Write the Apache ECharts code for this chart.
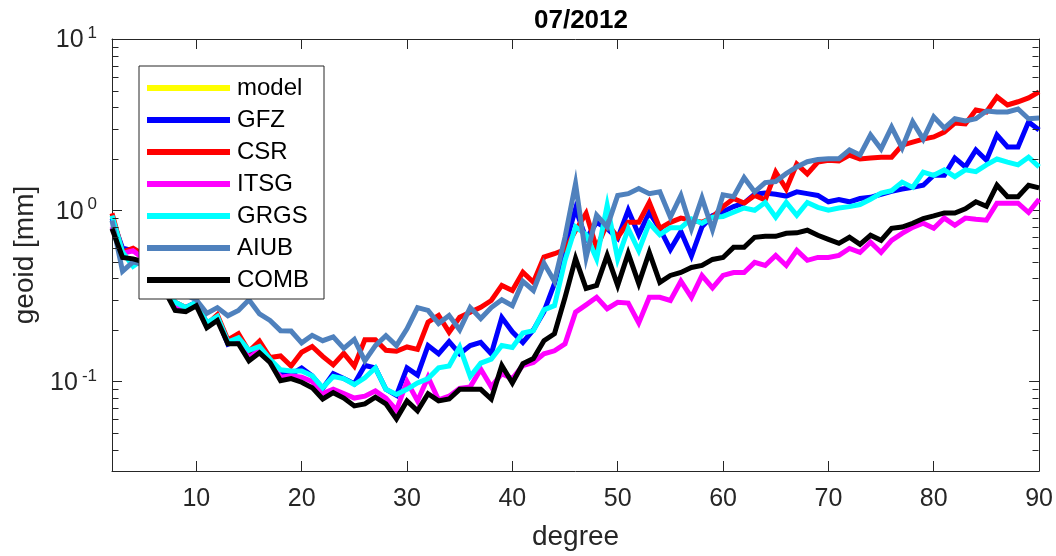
<!DOCTYPE html>
<html>
<head>
<meta charset="utf-8">
<script src="https://cdn.jsdelivr.net/npm/echarts@6/dist/echarts.min.js"></script>
<style>html,body{margin:0;padding:0;background:#fff}#c{width:1056px;height:556px}</style>
</head>
<body>
<div id="c"></div>
<script>
const titleText = '07/2012';
const xName = 'degree';
const yName = 'geoid [mm]';
const seriesNames = ['model', 'GFZ', 'CSR', 'ITSG', 'GRGS', 'AIUB', 'COMB'];
const seriesColors = ['#ffff00', '#0000ff', '#ff0000', '#ff00ff', '#00ffff', '#4f81bd', '#000000'];

const degrees = [
  2, 3, 4, 5, 6, 7, 8, 9, 10, 11,
  12, 13, 14, 15, 16, 17, 18, 19, 20, 21,
  22, 23, 24, 25, 26, 27, 28, 29, 30, 31,
  32, 33, 34, 35, 36, 37, 38, 39, 40, 41,
  42, 43, 44, 45, 46, 47, 48, 49, 50, 51,
  52, 53, 54, 55, 56, 57, 58, 59, 60, 61,
  62, 63, 64, 65, 66, 67, 68, 69, 70, 71,
  72, 73, 74, 75, 76, 77, 78, 79, 80, 81,
  82, 83, 84, 85, 86, 87, 88, 89, 90
];

const model = [];

const gfz = [
  0.90, 0.60, 0.58, 0.55, 0.45, 0.36, 0.28, 0.27, 0.29, 0.22,
  0.235, 0.165, 0.175, 0.14, 0.155, 0.13, 0.112, 0.11, 0.12, 0.108,
  0.091, 0.111, 0.104, 0.097, 0.124, 0.12, 0.09, 0.083, 0.12, 0.109,
  0.162, 0.145, 0.171, 0.145, 0.162, 0.169, 0.145, 0.236, 0.195, 0.169,
  0.20, 0.256, 0.373, 0.62, 1.02, 0.68, 0.85, 0.78, 0.685, 1.0,
  0.72, 0.97, 0.78, 0.59, 0.75, 0.54, 0.80, 0.93, 0.98, 1.05,
  1.10, 1.24, 1.26, 1.24, 1.21, 1.28, 1.25, 1.22, 1.12, 1.155,
  1.12, 1.17, 1.19, 1.24, 1.29, 1.33, 1.36, 1.40, 1.60, 1.60,
  2.02, 1.79, 2.25, 1.96, 2.75, 2.34, 2.34, 3.28, 2.94
];

const csr = [
  0.96, 0.57, 0.60, 0.55, 0.45, 0.36, 0.29, 0.27, 0.28, 0.215,
  0.245, 0.175, 0.19, 0.15, 0.172, 0.138, 0.141, 0.123, 0.148, 0.16,
  0.14, 0.125, 0.146, 0.123, 0.175, 0.175, 0.152, 0.15, 0.159, 0.154,
  0.222, 0.243, 0.194, 0.237, 0.254, 0.271, 0.297, 0.364, 0.34, 0.435,
  0.38, 0.533, 0.557, 0.59, 0.76, 0.96, 0.60, 0.84, 0.695, 0.85,
  0.85, 1.11, 0.784, 0.85, 0.90, 0.874, 0.85, 0.91, 1.05, 1.17,
  1.10, 1.22, 1.15, 1.67, 1.33, 1.86, 1.63, 1.91, 1.96, 1.94,
  2.10, 1.99, 2.02, 2.04, 2.04, 2.40, 2.50, 2.60, 2.68, 2.86,
  3.23, 3.19, 3.85, 3.75, 4.59, 4.12, 4.30, 4.53, 4.91
];

const itsg = [
  0.80, 0.56, 0.58, 0.52, 0.44, 0.35, 0.274, 0.265, 0.28, 0.215,
  0.235, 0.17, 0.172, 0.137, 0.153, 0.133, 0.106, 0.108, 0.106, 0.10,
  0.085, 0.09, 0.085, 0.08, 0.082, 0.088, 0.08, 0.068, 0.10, 0.077,
  0.106, 0.078, 0.082, 0.091, 0.093, 0.118, 0.093, 0.111, 0.104, 0.124,
  0.129, 0.145, 0.151, 0.166, 0.254, 0.28, 0.31, 0.266, 0.29, 0.287,
  0.22, 0.31, 0.31, 0.297, 0.385, 0.31, 0.415, 0.352, 0.416, 0.433,
  0.433, 0.496, 0.476, 0.545, 0.476, 0.583, 0.51, 0.53, 0.53, 0.545,
  0.598, 0.567, 0.65, 0.567, 0.667, 0.733, 0.795, 0.839, 0.784, 0.90,
  0.817, 0.90, 0.885, 0.874, 1.10, 1.10, 1.10, 0.97, 1.16
];

const grgs = [
  0.93, 0.57, 0.47, 0.52, 0.44, 0.36, 0.29, 0.27, 0.29, 0.22,
  0.24, 0.17, 0.18, 0.152, 0.16, 0.135, 0.117, 0.115, 0.115, 0.108,
  0.092, 0.107, 0.104, 0.096, 0.105, 0.12, 0.09, 0.084, 0.09, 0.098,
  0.104, 0.12, 0.123, 0.159, 0.107, 0.128, 0.135, 0.162, 0.158, 0.192,
  0.198, 0.262, 0.277, 0.51, 0.80, 0.72, 0.52, 1.07, 0.52, 0.78,
  0.58, 0.84, 0.72, 0.79, 0.79, 0.89, 0.84, 0.91, 0.92, 0.973,
  1.03, 1.0, 1.11, 0.91, 1.11, 0.935, 1.11, 1.04, 1.0, 1.03,
  1.05, 1.08, 1.16, 1.26, 1.30, 1.46, 1.36, 1.67, 1.60, 1.72,
  1.57, 1.72, 1.68, 1.84, 1.99, 1.91, 1.84, 2.04, 1.79
];

const aiub = [
  0.87, 0.44, 0.50, 0.48, 0.45, 0.40, 0.35, 0.32, 0.30, 0.25,
  0.27, 0.242, 0.26, 0.30, 0.248, 0.227, 0.198, 0.197, 0.168, 0.186,
  0.173, 0.182, 0.156, 0.176, 0.132, 0.162, 0.185, 0.162, 0.203, 0.27,
  0.26, 0.218, 0.243, 0.20, 0.27, 0.233, 0.27, 0.30, 0.277, 0.384,
  0.34, 0.49, 0.384, 0.695, 1.43, 0.53, 0.935, 0.80, 1.22, 1.25,
  1.34, 1.25, 1.28, 0.91, 1.22, 0.78, 1.18, 0.77, 1.23, 1.20,
  1.55, 1.28, 1.45, 1.47, 1.64, 1.79, 1.92, 1.98, 2.0, 2.0,
  2.25, 2.10, 2.75, 2.28, 3.06, 2.31, 3.28, 2.60, 3.51, 3.02,
  3.42, 3.32, 3.42, 3.80, 3.75, 3.75, 3.90, 3.42, 3.46
];

const comb = [
  0.78, 0.53, 0.52, 0.50, 0.42, 0.34, 0.26, 0.256, 0.277, 0.206,
  0.227, 0.166, 0.166, 0.132, 0.147, 0.129, 0.101, 0.104, 0.099, 0.092,
  0.079, 0.086, 0.080, 0.072, 0.074, 0.081, 0.074, 0.0605, 0.077, 0.0674,
  0.0848, 0.077, 0.079, 0.090, 0.090, 0.090, 0.079, 0.124, 0.098, 0.127,
  0.136, 0.173, 0.190, 0.309, 0.523, 0.349, 0.364, 0.545, 0.364, 0.56,
  0.373, 0.567, 0.379, 0.416, 0.433, 0.463, 0.476, 0.516, 0.53, 0.607,
  0.607, 0.695, 0.704, 0.704, 0.733, 0.738, 0.764, 0.714, 0.676, 0.641,
  0.695, 0.632, 0.714, 0.667, 0.784, 0.798, 0.839, 0.894, 0.926, 0.964,
  0.964, 1.02, 1.12, 1.055, 1.40, 1.20, 1.20, 1.40, 1.35
];

const xMin = 2, xMax = 90;
const yMin = 0.03, yMax = 10;
const yMinorTicks = [0.04, 0.05, 0.06, 0.07, 0.08, 0.09,
                     0.2, 0.3, 0.4, 0.5, 0.6, 0.7, 0.8, 0.9,
                     2, 3, 4, 5, 6, 7, 8, 9];

const seriesValues = [model, gfz, csr, itsg, grgs, aiub, comb];

const FONT = '"Liberation Sans", Arial, Helvetica, sans-serif';
const AX = '#262626';

function pairs(arr) { return arr.map((v, i) => [degrees[i], v]); }

const chart = echarts.init(document.getElementById('c'), null, { renderer: 'canvas' });

const supLabel = {
  show: true,
  fontFamily: FONT, fontSize: 25, color: AX, margin: 15,
  formatter: function (v) {
    const e = Math.log10(v);
    const r = Math.round(e);
    if (Math.abs(e - r) > 1e-6) return '';
    return '{b|10}{s|' + r + '}';
  },
  rich: {
    b: { fontFamily: FONT, fontSize: 25, color: AX, verticalAlign: 'bottom', lineHeight: 28 },
    s: { fontFamily: FONT, fontSize: 17, color: AX, verticalAlign: 'top', lineHeight: 28, padding: [0, 0, 0, 4] }
  }
};

const xLabel = {
  show: true, fontFamily: FONT, fontSize: 25, color: AX, margin: 16,
  formatter: function (v) { return (v % 10 === 0) ? String(v) : ''; }
};

const option = {
  animation: false,
  backgroundColor: '#ffffff',
  title: {
    text: titleText, left: 576, top: 3, textAlign: 'center',
    textStyle: { fontFamily: FONT, fontSize: 26, fontWeight: 'bold', color: '#000' }
  },
  grid: { left: 112, right: 15, top: 39, bottom: 85, containLabel: false },
  legend: {
    orient: 'vertical', left: 139, top: 66, z: 30,
    padding: [10, 15, 7, 8], itemGap: 8, itemWidth: 83, itemHeight: 6,
    backgroundColor: '#ffffff', borderColor: AX, borderWidth: 1,
    icon: 'rect', selectedMode: false,
    textStyle: { fontFamily: FONT, fontSize: 24, color: '#000', padding: [0, 0, 0, 2] },
    data: seriesNames
  },
  xAxis: [
    {
      type: 'value', position: 'bottom', min: xMin, max: xMax, splitNumber: 9,
      name: xName, nameLocation: 'middle', nameGap: 52,
      nameTextStyle: { fontFamily: FONT, fontSize: 28, color: AX },
      axisLine: { show: true, lineStyle: { color: AX, width: 1 } },
      axisTick: { show: true, inside: true, length: 10, lineStyle: { color: AX } },
      axisLabel: xLabel,
      splitLine: { show: false }
    },
    {
      type: 'value', position: 'top', min: xMin, max: xMax, splitNumber: 9,
      axisLine: { show: true, lineStyle: { color: AX, width: 1 } },
      axisTick: { show: true, inside: true, length: 10, lineStyle: { color: AX } },
      axisLabel: { show: false },
      splitLine: { show: false }
    }
  ],
  yAxis: [
    {
      type: 'log', logBase: 10, position: 'left', min: yMin, max: yMax,
      name: yName, nameLocation: 'middle', nameGap: 70,
      nameTextStyle: { fontFamily: FONT, fontSize: 28, color: AX },
      axisLine: { show: true, lineStyle: { color: AX, width: 1 } },
      axisTick: { show: true, inside: true, length: 10, lineStyle: { color: AX } },
      axisLabel: supLabel,
      splitLine: { show: false }
    },
    {
      type: 'log', logBase: 10, position: 'right', min: yMin, max: yMax,
      axisLine: { show: true, lineStyle: { color: AX, width: 1 } },
      axisTick: { show: true, inside: true, length: 10, lineStyle: { color: AX } },
      axisLabel: { show: false },
      splitLine: { show: false }
    }
  ],
  series: seriesNames.map((name, i) => ({
    name: name,
    type: 'line',
    xAxisIndex: 0, yAxisIndex: 0,
    data: pairs(seriesValues[i]),
    color: seriesColors[i],
    showSymbol: false, symbol: 'none',
    lineStyle: { width: 5, color: seriesColors[i], join: 'miter' },
    itemStyle: { color: seriesColors[i] },
    emphasis: { disabled: true },
    z: 2
  }))
};

chart.setOption(option);

function addMinorTicks() {
  const xl = Math.round(chart.convertToPixel({ xAxisIndex: 0 }, xMin)) + 0.5;
  const xr = Math.round(chart.convertToPixel({ xAxisIndex: 0 }, xMax)) - 0.5;
  const els = [];
  yMinorTicks.forEach(function (v) {
    const y = Math.round(chart.convertToPixel({ yAxisIndex: 0 }, v)) + 0.5;
    els.push({ type: 'line', silent: true, z: 20,
      shape: { x1: xl, y1: y, x2: xl + 6, y2: y }, style: { stroke: AX, lineWidth: 1 } });
    els.push({ type: 'line', silent: true, z: 20,
      shape: { x1: xr - 6, y1: y, x2: xr, y2: y }, style: { stroke: AX, lineWidth: 1 } });
  });
  chart.setOption({ graphic: els });
}
addMinorTicks();
</script>
</body>
</html>
